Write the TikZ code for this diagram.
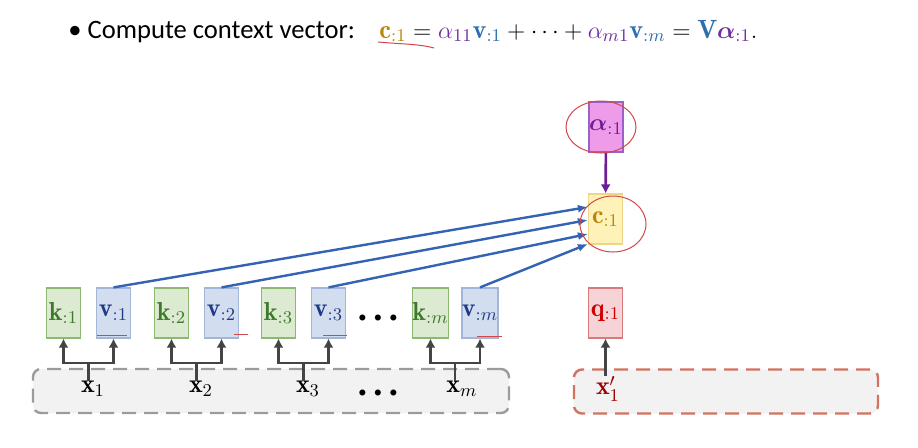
\documentclass[tikz,border=0pt]{standalone}
\usepackage{amsmath}
\usepackage{fontspec}
\newfontfamily\slidefont{Carlito}
\usetikzlibrary{arrows.meta}

\definecolor{keyfill}{HTML}{DCEAD2}
\definecolor{keydraw}{HTML}{8DB872}
\definecolor{keytext}{HTML}{3B7A28}
\definecolor{valfill}{HTML}{D2DDF0}
\definecolor{valdraw}{HTML}{A3B6DA}
\definecolor{valtext}{HTML}{1F3A87}
\definecolor{ctxfill}{HTML}{FFF2B8}
\definecolor{ctxdraw}{HTML}{EDD58A}
\definecolor{ctxtext}{HTML}{B8860B}
\definecolor{attfill}{HTML}{EE9BEA}
\definecolor{attdraw}{HTML}{9A62C8}
\definecolor{atttext}{HTML}{6B1E96}
\definecolor{qryfill}{HTML}{F5D3D6}
\definecolor{qrydraw}{HTML}{D67B7B}
\definecolor{qrytext}{HTML}{D00000}
\definecolor{feedgray}{HTML}{444444}
\definecolor{linkblue}{HTML}{3462B4}
\definecolor{framegray}{HTML}{9B9B9B}
\definecolor{framered}{HTML}{D2735F}
\definecolor{inkred}{HTML}{D24848}
\definecolor{mathblue}{HTML}{2E6FB0}
\definecolor{mathpurple}{HTML}{6F2DA0}

\begin{document}
\begin{tikzpicture}
[
x=0.5pt, y=-0.5pt,
cell/.style={draw, line width=0.6pt, minimum width=17pt, minimum height=25pt, inner sep=0pt, font=\fontsize{13}{15}\selectfont},
kcell/.style={cell, fill=keyfill, draw=keydraw, text=keytext},
vcell/.style={cell, fill=valfill, draw=valdraw, text=valtext},
frame/.style={rounded corners=4pt, dashed, dash pattern=on 7pt off 4pt, line width=1.2pt, fill=black!5, minimum height=22pt},
xlab/.style={inner sep=0pt, font=\fontsize{13}{15}\selectfont},
dots/.style={inner sep=0pt, font=\fontsize{7.5}{9}\selectfont},
feed/.style={draw=feedgray, line width=1.3pt},
link/.style={draw=linkblue, line width=1.2pt, -{Latex[length=5pt,width=4pt]}},
ink/.style={draw=inkred, line width=0.5pt}
]
\fill[white] (0,0) rectangle (918,447);

% title line
\node[anchor=base west, inner sep=0pt, font=\slidefont\fontsize{13.3}{15}\selectfont] (head) at (68,38) {\textbullet\ Compute context vector:};
\node[anchor=base west, inner sep=0pt, font=\fontsize{13.2}{15}\selectfont] (formula) at (379,38)
 {$\color{ctxtext}\mathbf{c}_{:1}\color{black} = \color{mathpurple}\alpha_{11}\color{mathblue}\mathbf{v}_{:1}\color{black} + \cdots + \color{mathpurple}\alpha_{m1}\color{mathblue}\mathbf{v}_{:m}\color{black} = \color{mathblue}\mathbf{V}\color{mathpurple}\boldsymbol{\alpha}_{:1}\color{black}.$};

% input rows
\node[frame, draw=framegray, minimum width=238pt] (xrow) at (271,391) {};
\node[frame, draw=framered, minimum width=152pt] (qrow) at (726,391.5) {};

\node[xlab] (x1) at (93,389) {$\mathbf{x}_1$};
\node[xlab] (x2) at (201,389) {$\mathbf{x}_2$};
\node[xlab] (x3) at (308,389) {$\mathbf{x}_3$};
\node[dots] (xdots) at (378,393) {$\bullet\mkern4mu\bullet\mkern4mu\bullet$};
\node[xlab] (xm) at (462,389) {$\mathbf{x}_m$};
\node[xlab, text=qrytext!75!black] (xq) at (608,389) {$\mathbf{x}'_1$};

% keys and values
\node[kcell] (k1) at (63.5,313) {$\mathbf{k}_{:1}$};
\node[vcell] (v1) at (113.5,313) {$\mathbf{v}_{:1}$};
\node[kcell] (k2) at (171.5,313) {$\mathbf{k}_{:2}$};
\node[vcell] (v2) at (221.5,313) {$\mathbf{v}_{:2}$};
\node[kcell] (k3) at (278.5,313) {$\mathbf{k}_{:3}$};
\node[vcell] (v3) at (328.5,313) {$\mathbf{v}_{:3}$};
\node[dots] (kvdots) at (378,318) {$\bullet\mkern4mu\bullet\mkern4mu\bullet$};
\node[kcell] (km) at (430.5,313) {$\mathbf{k}_{:m}$};
\node[vcell] (vm) at (480,313) {$\mathbf{v}_{:m}$};
\node[cell, fill=qryfill, draw=qrydraw, text=qrytext] (q) at (605.5,313) {$\mathbf{q}_{:1}$};

% context and weights
\node[cell, fill=ctxfill, draw=ctxdraw, text=ctxtext] (c) at (605.5,219) {$\mathbf{c}_{:1}$};
\node[cell, fill=attfill, draw=attdraw, text=atttext] (a) at (606,127) {$\boldsymbol{\alpha}_{:1}$};

\coordinate (j1) at (88.5,363);
\coordinate (j2) at (196.5,363);
\coordinate (j3) at (303.5,363);
\coordinate (jm) at (455,363);

\draw[feed] (j1 |- x1.north) -- (j1);
\draw[feed] (j2 |- x2.north) -- (j2);
\draw[feed] (j3 |- x3.north) -- (j3);
\draw[feed] (jm |- xm.north) -- (jm);
\draw[feed, -{Latex[length=4.5pt,width=5pt]}] (j1) -| (k1);
\draw[feed, -{Latex[length=4.5pt,width=5pt]}] (j1) -| (v1);
\draw[feed, -{Latex[length=4.5pt,width=5pt]}] (j2) -| (k2);
\draw[feed, -{Latex[length=4.5pt,width=5pt]}] (j2) -| (v2);
\draw[feed, -{Latex[length=4.5pt,width=5pt]}] (j3) -| (k3);
\draw[feed, -{Latex[length=4.5pt,width=5pt]}] (j3) -| (v3);
\draw[feed, -{Latex[length=4.5pt,width=5pt]}] (jm) -| (km);
\draw[feed, -{Latex[length=4.5pt,width=5pt]}] (jm) -| (vm);
\draw[feed, -{Latex[length=4.5pt,width=5pt]}] (q.south |- xq.north) -- (q);

\draw[link] (v1.north) -- ([yshift=6pt]c.west);
\draw[link] (v2.north) -- ([yshift=-0.5pt]c.west);
\draw[link] (v3.north) -- ([yshift=-7.5pt]c.west);
\draw[link] (vm.north) -- ([yshift=-12.5pt]c.west);
\draw[draw=atttext, line width=1.3pt, -{Latex[length=4.5pt,width=5pt]}] (a) -- (c);

% pen marks
\draw[ink] (378,42) .. controls (400,44) and (420,44) .. (434,48);
\draw[ink] (97,335) -- (127,335);
\draw[ink] (234,334) -- (248,334);
\draw[ink] (323,335) -- (347,335);
\draw[ink] (477,336) -- (502,336);
\draw[ink] (601,127) ellipse [x radius=17.5pt, y radius=13pt];
\draw[ink] (613,224) ellipse [x radius=16.5pt, y radius=14pt];
\end{tikzpicture}
\end{document}
